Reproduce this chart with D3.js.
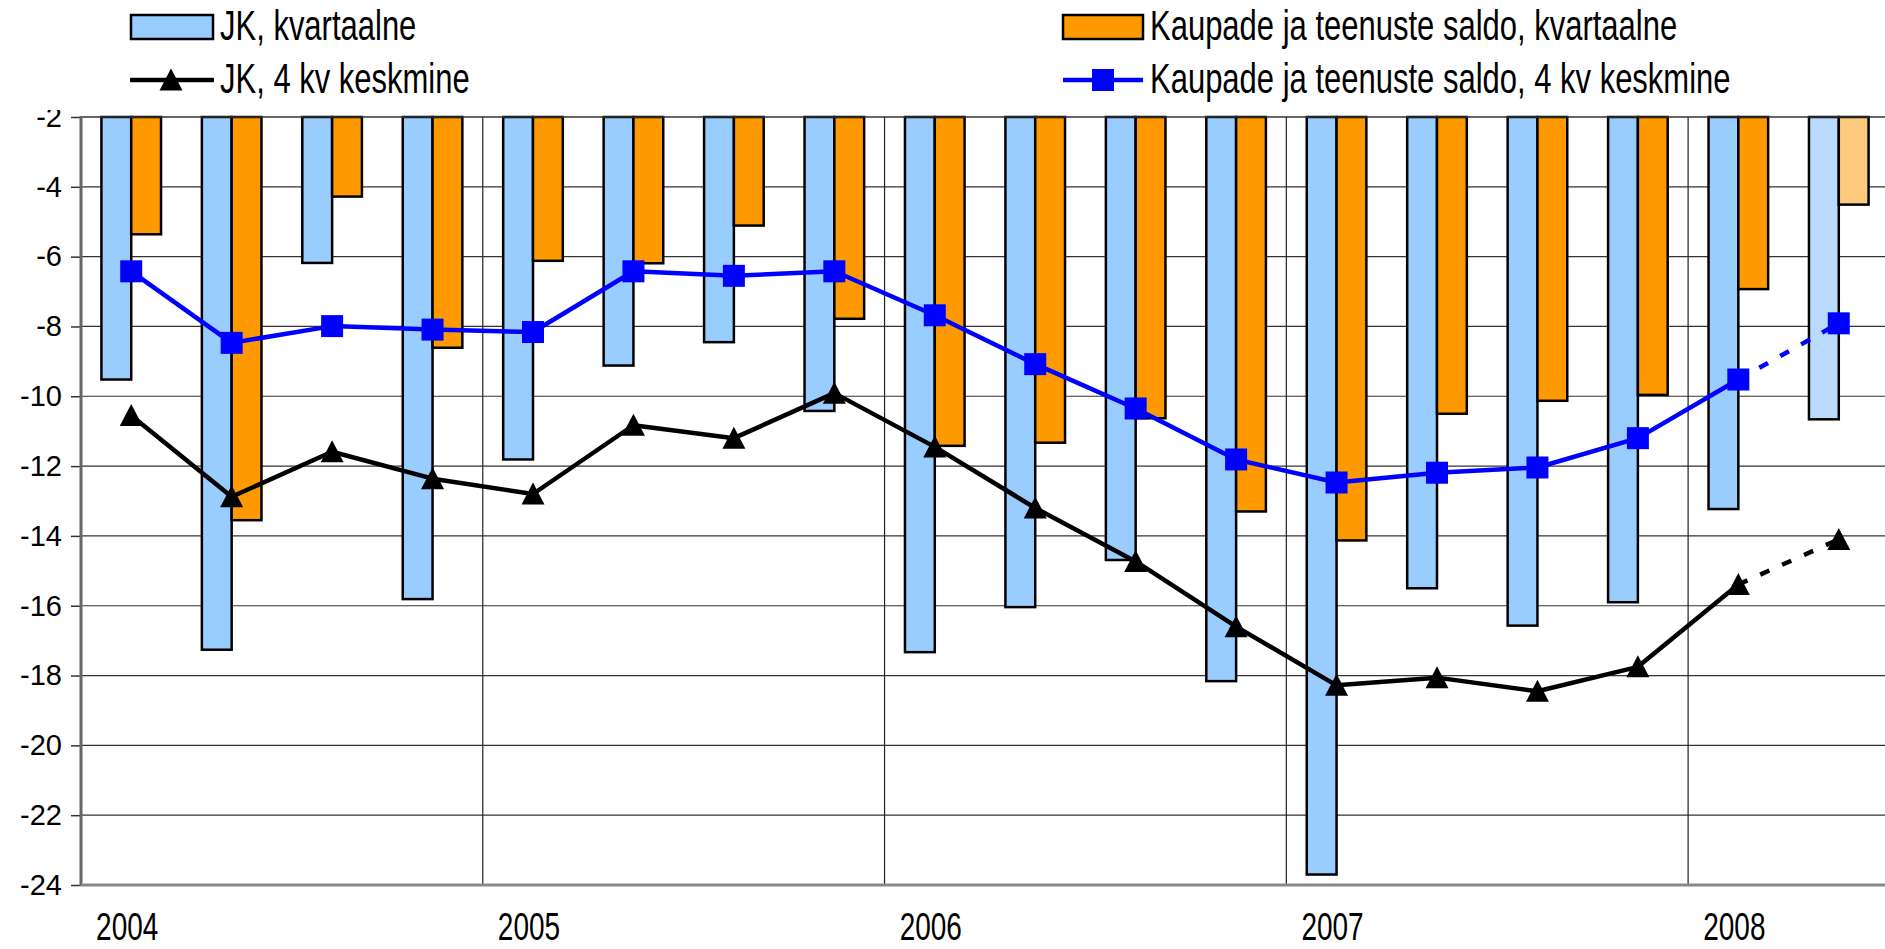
<!DOCTYPE html>
<meta charset="utf-8">
<head>
  <script src="https://d3js.org/d3.v7.min.js"></script>
  <style>
    body { margin: 0; background: #fff; }
    text { font-family: Arial, "Liberation Sans", sans-serif; fill: #000; }
  </style>
</head>
<body>
<div id="chart"></div>
<script>
// quarters 2004 I .. 2008 II
var quarters = ["2004 I","2004 II","2004 III","2004 IV","2005 I","2005 II","2005 III","2005 IV",
                "2006 I","2006 II","2006 III","2006 IV","2007 I","2007 II","2007 III","2007 IV",
                "2008 I","2008 II"];
var yearLabels = ["2004","2005","2006","2007","2008"];
var yTicks = [-2,-4,-6,-8,-10,-12,-14,-16,-18,-20,-22,-24];

// JK, kvartaalne
var jkQuarter = [-9.52,-17.26,-6.18,-15.81,-11.81,-9.12,-8.45,-10.42,-17.33,-16.04,-14.69,-18.16,
                 -23.7,-15.5,-16.57,-15.9,-13.23,-10.66];
// Kaupade ja teenuste saldo, kvartaalne
var ktQuarter = [-5.36,-13.55,-4.28,-8.61,-6.12,-6.19,-5.11,-7.78,-11.42,-11.33,-10.63,-13.3,
                 -14.13,-10.5,-10.13,-9.96,-6.93,-4.51];
// JK, 4 kv keskmine
var jkAvg = [-10.55,-12.88,-11.59,-12.36,-12.8,-10.83,-11.2,-9.91,-11.45,-13.2,-14.73,-16.6,
             -18.28,-18.06,-18.45,-17.75,-15.39,-14.1];
// Kaupade ja teenuste saldo, 4 kv keskmine
var ktAvg = [-6.42,-8.47,-7.99,-8.09,-8.16,-6.42,-6.55,-6.42,-7.68,-9.08,-10.35,-11.81,
             -12.47,-12.19,-12.04,-11.2,-9.52,-7.91];

var width = 1885, height = 949;
var plotLeft = 81, plotRight = 1889, plotTop = 117, plotBottom = 885;

var svg = d3.select("#chart").append("svg")
    .attr("width", width)
    .attr("height", height);

var defs = svg.append("defs");
// lighter, dotted fill for the last (preliminary) quarter
function dotted(id, base, dot) {
  var p = defs.append("pattern").attr("id", id)
      .attr("width", 4).attr("height", 4).attr("patternUnits", "userSpaceOnUse");
  p.append("rect").attr("width", 4).attr("height", 4).attr("fill", base);
  p.append("rect").attr("x", 0).attr("y", 0).attr("width", 1).attr("height", 1).attr("fill", dot);
  p.append("rect").attr("x", 2).attr("y", 2).attr("width", 1).attr("height", 1).attr("fill", dot);
}
dotted("jkLight", "#bcdcff", "#a9d1fb");
dotted("ktLight", "#ffcc80", "#f5bd6a");

var x = d3.scaleBand().domain(quarters).range([plotLeft, plotRight]);
var xs = d3.scaleBand().domain(["jk","kt"]).range([0, x.bandwidth()]).paddingOuter(0.685);
var y = d3.scaleLinear().domain([-2, -24]).range([plotTop, plotBottom]);

// horizontal gridlines
svg.append("g").selectAll("line").data(yTicks.slice(1, -1)).join("line")
    .attr("x1", plotLeft).attr("x2", width)
    .attr("y1", function(d) { return y(d); }).attr("y2", function(d) { return y(d); })
    .attr("stroke", "#333").attr("stroke-width", 1.2);

// year separators
svg.append("g").selectAll("line").data(quarters.filter(function(q, i) { return i > 0 && i % 4 == 0; })).join("line")
    .attr("x1", function(d) { return x(d); }).attr("x2", function(d) { return x(d); })
    .attr("y1", plotTop).attr("y2", plotBottom)
    .attr("stroke", "#222").attr("stroke-width", 1.2);

// y axis (plain hyphen minus like the original)
var yAxis = svg.append("g")
    .attr("transform", "translate(" + plotLeft + ",0)")
    .call(d3.axisLeft(y).tickValues(yTicks).tickSize(10).tickPadding(9).tickFormat(function(d) { return String(d); }));
yAxis.select(".domain").remove();
yAxis.selectAll(".tick line").attr("stroke", "#333").attr("stroke-width", 1.5);
yAxis.selectAll("text").style("font-size", "29px").style("font-family", "Arial, 'Liberation Sans', sans-serif");

// bars
var n = quarters.length;
svg.append("g").selectAll("rect").data(jkQuarter).join("rect")
    .attr("x", function(d, i) { return x(quarters[i]) + xs("jk"); })
    .attr("y", y(-2))
    .attr("width", xs.bandwidth())
    .attr("height", function(d) { return y(d) - y(-2); })
    .attr("fill", function(d, i) { return i == n - 1 ? "url(#jkLight)" : "#99ccff"; })
    .attr("stroke", "#000").attr("stroke-width", 2.5);

svg.append("g").selectAll("rect").data(ktQuarter).join("rect")
    .attr("x", function(d, i) { return x(quarters[i]) + xs("kt"); })
    .attr("y", y(-2))
    .attr("width", xs.bandwidth())
    .attr("height", function(d) { return y(d) - y(-2); })
    .attr("fill", function(d, i) { return i == n - 1 ? "url(#ktLight)" : "#ff9900"; })
    .attr("stroke", "#000").attr("stroke-width", 2.5);

// frame: top line, left and bottom axis lines
svg.append("line").attr("x1", plotLeft).attr("x2", width).attr("y1", plotTop).attr("y2", plotTop)
    .attr("stroke", "#333").attr("stroke-width", 1.5);
svg.append("line").attr("x1", plotLeft).attr("x2", plotLeft).attr("y1", plotTop - 1).attr("y2", plotBottom + 1)
    .attr("stroke", "#666").attr("stroke-width", 3);
svg.append("line").attr("x1", plotLeft).attr("x2", width).attr("y1", plotBottom).attr("y2", plotBottom)
    .attr("stroke", "#888").attr("stroke-width", 3);

// lines
var cx = function(d, i) { return x(quarters[i]) + x.bandwidth() / 2; };
var line = d3.line().x(function(d) { return d[0]; }).y(function(d) { return y(d[1]); });

function drawSeries(values, color, marker) {
  var pts = values.map(function(v, i) { return [cx(v, i), v]; });
  var g = svg.append("g");
  g.append("path").attr("d", line(pts.slice(0, n - 1)))
      .attr("fill", "none").attr("stroke", color).attr("stroke-width", 4.5).attr("stroke-linejoin", "round");
  g.append("path").attr("d", line(pts.slice(n - 2)))
      .attr("fill", "none").attr("stroke", color).attr("stroke-width", 4.5).attr("stroke-dasharray", "10,14");
  g.selectAll(".m").data(pts).join("path")
      .attr("class", "m")
      .attr("transform", function(d) { return "translate(" + d[0] + "," + y(d[1]) + ")"; })
      .attr("d", marker)
      .attr("fill", color);
}
var tri = "M0,-11.5L11.5,10.5L-11.5,10.5Z";
var sq = "M-11,-11H11V11H-11Z";
drawSeries(jkAvg, "#000", tri);
drawSeries(ktAvg, "#0000ff", sq);

// year labels under the first quarter of each year
svg.append("g").selectAll("text").data(yearLabels).join("text")
    .attr("transform", function(d) { return "translate(" + (x(d + " I") + x.bandwidth() / 2 - 4) + ",940) scale(1,1.4)"; })
    .attr("text-anchor", "middle")
    .style("font-size", "28px")
    .text(function(d) { return d; });

// legend (white band above the plot)
svg.append("rect").attr("x", 0).attr("y", 0).attr("width", width).attr("height", 110).attr("fill", "#fff");
var legend = svg.append("g");
function legendText(xp, yp, t) {
  legend.append("text")
      .attr("transform", "translate(" + xp + "," + yp + ") scale(1,1.35)")
      .style("font-size", "31px")
      .text(t);
}
legend.append("rect").attr("x", 131).attr("y", 15).attr("width", 82).attr("height", 24)
    .attr("fill", "#99ccff").attr("stroke", "#000").attr("stroke-width", 2.5);
legendText(220, 40, "JK, kvartaalne");
legend.append("line").attr("x1", 130).attr("x2", 214).attr("y1", 80).attr("y2", 80)
    .attr("stroke", "#000").attr("stroke-width", 4.5);
legend.append("path").attr("transform", "translate(171,80)").attr("d", tri).attr("fill", "#000");
legendText(220, 93, "JK, 4 kv keskmine");

legend.append("rect").attr("x", 1063).attr("y", 15).attr("width", 80).attr("height", 24)
    .attr("fill", "#ff9900").attr("stroke", "#000").attr("stroke-width", 2.5);
legendText(1150, 40, "Kaupade ja teenuste saldo, kvartaalne");
legend.append("line").attr("x1", 1063).attr("x2", 1143).attr("y1", 80).attr("y2", 80)
    .attr("stroke", "#0000ff").attr("stroke-width", 4.5);
legend.append("path").attr("transform", "translate(1103,80)").attr("d", sq).attr("fill", "#0000ff");
legendText(1150, 93, "Kaupade ja teenuste saldo, 4 kv keskmine");
</script>
</body>
